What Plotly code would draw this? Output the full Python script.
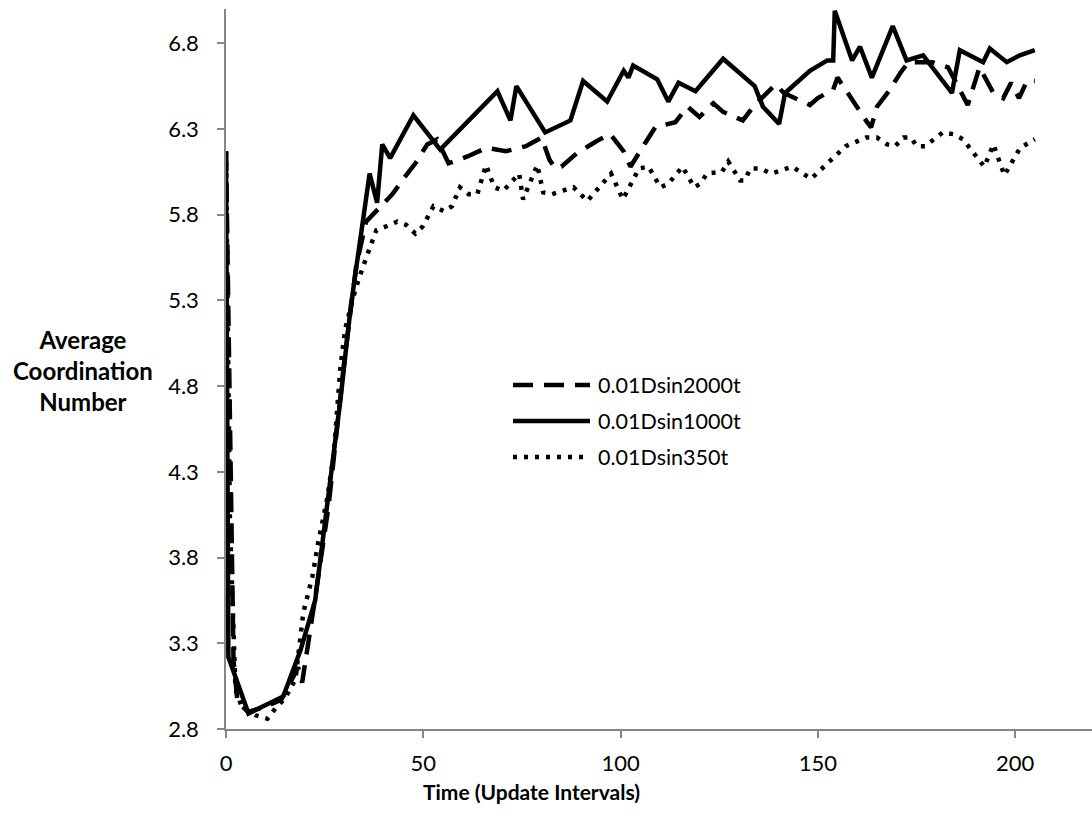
import plotly.graph_objects as go

# ---------------- data ----------------
x_1000 = [0, 0.6, 5.7, 14.5, 18.9, 22.6, 29, 31.6, 36.4, 38.3, 39.6, 41.6, 47.5, 54.3,
          68.8, 72.1, 73.6, 80.9, 87.3, 90.5, 96.6, 100.8, 102, 103.2, 109.3, 112.1,
          114.7, 119, 126, 134, 136.1, 140.2, 141.7, 148, 152.4, 153.9, 154.3, 158.7,
          160.7, 163.7, 169, 172.5, 176.7, 184, 186, 191.9, 193.6, 197.9, 201.2, 205]
y_1000 = [6.17, 3.22, 2.89, 2.99, 3.26, 3.55, 4.72, 5.26, 6.04, 5.87, 6.21, 6.13, 6.38, 6.18,
          6.52, 6.35, 6.55, 6.28, 6.35, 6.58, 6.46, 6.64, 6.60, 6.67, 6.59, 6.46,
          6.57, 6.52, 6.71, 6.55, 6.43, 6.33, 6.51, 6.64, 6.70, 6.70, 6.99, 6.70,
          6.78, 6.60, 6.90, 6.70, 6.73, 6.51, 6.76, 6.69, 6.77, 6.69, 6.73, 6.76]

x_2000 = [0, 1.9, 2.9, 5.6, 10, 14, 18.3, 19.3, 22.5, 26, 30, 33, 35.5, 38.3, 42.2, 45, 48,
          51, 53.5, 56.4, 61.2, 66, 71, 76, 80, 82, 83.5, 85, 89, 94, 97.4, 100.8, 102.5,
          106.3, 108.8, 113.9, 117, 120, 123.5, 126, 131, 134, 139.3, 141.4, 148, 150,
          153.9, 155, 159.5, 162.5, 163.5, 165, 168, 171, 173, 179, 183, 188, 191, 194.5,
          197, 199, 201, 203, 205]
y_2000 = [6.17, 3.20, 2.96, 2.90, 2.93, 2.97, 3.16, 3.07, 3.55, 4.10, 4.95, 5.50, 5.76, 5.83, 5.92, 6.01, 6.10,
          6.21, 6.24, 6.10, 6.14, 6.19, 6.17, 6.20, 6.25, 6.12, 6.07, 6.08, 6.16, 6.23, 6.27, 6.17, 6.08,
          6.22, 6.31, 6.34, 6.43, 6.37, 6.45, 6.40, 6.35, 6.44, 6.56, 6.51, 6.44, 6.48,
          6.53, 6.60, 6.44, 6.34, 6.31, 6.43, 6.52, 6.63, 6.69, 6.69, 6.66, 6.44, 6.66, 6.51,
          6.48, 6.57, 6.48, 6.58, 6.58]

x_350 = [0, 1, 2.4, 4, 7.5, 10.5, 12.5, 15, 17.6, 19.6, 21.9, 23.4, 25.7, 27.3, 29, 30.2, 31.6,
         33, 35.1, 37.1, 38.1, 40.4, 43.4, 45.7, 48, 49.8, 52.6, 55.3, 57.3, 59.3, 61.5, 63.7,
         65.9, 68, 70.3, 74.3, 75.3, 78.9, 80.4, 82.6, 88.1, 91.6, 97.6, 100.6, 104.7, 107.1,
         110.1, 112.1, 115.7, 118.7, 120.2, 121.9, 125.7, 127.3, 130.3, 131.5, 132.9, 135.4,
         138.2, 140.9, 143.5, 148.3, 152.6, 157.1, 162.2, 165, 167.6, 169.6, 171.7, 173.6,
         175.1, 177.2, 181.7, 184.3, 186.8, 192.2, 194.5, 197.3, 201.3, 203.3, 205]
y_350 = [6.17, 4.00, 3.03, 2.93, 2.88, 2.86, 2.92, 2.98, 3.09, 3.48, 3.69, 3.89, 4.15, 4.40, 4.91, 5.13, 5.26,
         5.38, 5.52, 5.64, 5.71, 5.73, 5.76, 5.74, 5.69, 5.73, 5.85, 5.82, 5.85, 5.96, 5.92, 5.92,
         6.09, 5.96, 5.94, 6.04, 5.89, 6.09, 5.93, 5.92, 5.96, 5.88, 6.04, 5.89, 6.07, 6.08,
         5.96, 5.98, 6.08, 5.96, 5.98, 6.04, 6.05, 6.11, 6.00, 6.00, 6.07, 6.07,
         6.04, 6.06, 6.08, 6.01, 6.10, 6.20, 6.25, 6.25, 6.21, 6.20, 6.25, 6.25,
         6.20, 6.20, 6.28, 6.27, 6.24, 6.08, 6.21, 6.03, 6.19, 6.22, 6.24]

series_names = ["0.01Dsin2000t", "0.01Dsin1000t", "0.01Dsin350t"]
x_ticks = [0, 50, 100, 150, 200]
y_ticks = [2.8, 3.3, 3.8, 4.3, 4.8, 5.3, 5.8, 6.3, 6.8]

# ---------------- styling ----------------
FONT = "Lato"
LW = 4.5
DASH = "20px,11px"
DOT = "4px,7px"
styles = [DASH, "solid", DOT]

fig = go.Figure()
for xs, ys, name, dash in [(x_2000, y_2000, series_names[0], DASH),
                           (x_1000, y_1000, series_names[1], "solid"),
                           (x_350, y_350, series_names[2], DOT)]:
    fig.add_trace(go.Scatter(x=xs, y=ys, mode="lines", name=name,
                             line=dict(color="black", width=LW, dash=dash),
                             showlegend=False))

W, H = 1092, 818
L, R, T, B = 226, 0, 9, 89
pw, ph = W - L - R, H - T - B

def px2paper(px, py):
    return (px - L) / pw, (H - B - py) / ph

# manual legend (long line samples like the original)
leg_y = [385, 421, 457]
for name, dash, py in zip(series_names, styles, leg_y):
    x0, y0 = px2paper(513, py)
    x1, _ = px2paper(590, py)
    fig.add_shape(type="line", xref="paper", yref="paper", x0=x0, x1=x1, y0=y0, y1=y0,
                  line=dict(color="black", width=LW, dash=dash))
    tx, _ = px2paper(596, py)
    fig.add_annotation(xref="paper", yref="paper", x=tx, y=y0, text=name,
                       showarrow=False, xanchor="left", yanchor="middle",
                       font=dict(family=FONT, size=21.5, color="black"))

# axis titles
ax, ay = px2paper(83, 370)
fig.add_annotation(xref="paper", yref="paper", x=ax, y=ay,
                   text="<b>Average<br>Coordination<br>Number</b>",
                   showarrow=False, xanchor="center", yanchor="middle", align="center",
                   font=dict(family=FONT, size=24, color="black"))
tx, ty = px2paper(531, 792)
fig.add_annotation(xref="paper", yref="paper", x=tx, y=ty,
                   text="<b>Time (Update Intervals)</b>",
                   showarrow=False, xanchor="center", yanchor="middle",
                   font=dict(family=FONT, size=21, color="black"))

axis_common = dict(showgrid=False, zeroline=False, showline=True, linecolor="#868686",
                   linewidth=1.5, ticks="outside", tickcolor="#868686", ticklen=7,
                   tickwidth=1.5, tickfont=dict(family=FONT, size=22, color="black"))

fig.update_xaxes(range=[0, 219.5], tickvals=x_ticks, ticktext=[str(v) for v in x_ticks],
                 ticklabelstandoff=7, **axis_common)
fig.update_yaxes(range=[2.8, 7.0], tickvals=y_ticks, ticktext=[f"{v:.1f}" for v in y_ticks],
                 ticklabelstandoff=14, **axis_common)

fig.update_layout(width=W, height=H, margin=dict(l=L, r=R, t=T, b=B),
                  paper_bgcolor="white", plot_bgcolor="white", showlegend=False,
                  font=dict(family=FONT, color="black"))

fig.write_html("out.html")
